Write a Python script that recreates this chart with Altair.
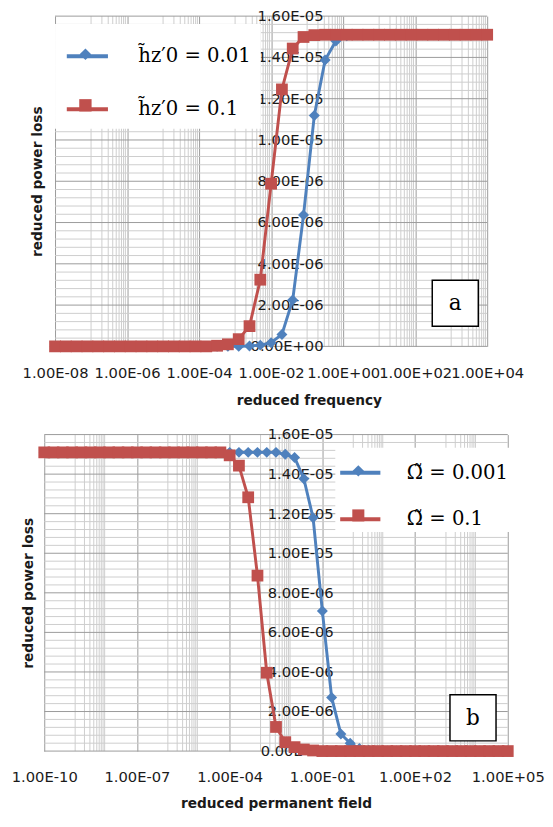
import altair as alt
import pandas as pd

# ---------------- data ----------------
# panel (a): reduced frequency (log10 of x) and reduced power loss (x 1e-6)
top_exp = [-8.0, -7.7, -7.4, -7.1, -6.8, -6.5, -6.2, -5.9, -5.6, -5.3, -5.0,
           -4.7, -4.4, -4.1, -3.8, -3.5, -3.2, -2.9, -2.6, -2.3, -2.0, -1.7,
           -1.4, -1.1, -0.8, -0.5, -0.2, 0.1, 0.4, 0.7, 1.0, 1.3, 1.6, 1.9,
           2.2, 2.5, 2.8, 3.1, 3.4, 3.7, 4.0]
top_blue = [0, 0, 0, 0, 0, 0, 0, 0, 0, 0, 0, 0, 0, 0, 0, 0, 0, 0,
            0.02, 0.06, 0.18, 0.58, 2.25, 6.36, 11.19, 13.88, 14.80, 15.05, 15.10,
            15.10, 15.10, 15.10, 15.10, 15.10, 15.10, 15.10, 15.10, 15.10, 15.10, 15.10, 15.10]
top_red = [0, 0, 0, 0, 0, 0, 0, 0, 0, 0, 0, 0, 0, 0, 0,
           0.03, 0.10, 0.35, 0.98, 3.23, 7.88, 12.45, 14.43, 14.99, 15.08,
           15.10, 15.10, 15.10, 15.10, 15.10, 15.10, 15.10, 15.10, 15.10, 15.10,
           15.10, 15.10, 15.10, 15.10, 15.10, 15.10]
top_names = ["h\u0303z\u20320 = 0.01", "h\u0303z\u20320 = 0.1"]
top_keys = ["0.01", "0.1"]

# panel (b): reduced permanent field
bot_exp = [-10.0, -9.7, -9.4, -9.1, -8.8, -8.5, -8.2, -7.9, -7.6, -7.3, -7.0,
           -6.7, -6.4, -6.1, -5.8, -5.5, -5.2, -4.9, -4.6, -4.3, -4.0, -3.7,
           -3.4, -3.1, -2.8, -2.5, -2.2, -1.9, -1.6, -1.3, -1.0, -0.7, -0.4,
           -0.1, 0.2, 0.5, 0.8, 1.1, 1.4, 1.7, 2.0, 2.3, 2.6, 2.9, 3.2, 3.5,
           3.8, 4.1, 4.4, 4.7, 5.0]
bot_blue = [15.10, 15.10, 15.10, 15.10, 15.10, 15.10, 15.10, 15.10, 15.10, 15.10,
            15.10, 15.10, 15.10, 15.10, 15.10, 15.10, 15.10, 15.10, 15.10, 15.10,
            15.10, 15.10, 15.10, 15.10, 15.10, 15.10,
            15.00, 14.84, 13.77, 11.79, 7.08, 2.71, 0.86, 0.40, 0.13, 0.04,
            0, 0, 0, 0, 0, 0, 0, 0, 0, 0, 0, 0, 0, 0, 0]
bot_red = [15.10, 15.10, 15.10, 15.10, 15.10, 15.10, 15.10, 15.10, 15.10, 15.10,
           15.10, 15.10, 15.10, 15.10, 15.10, 15.10, 15.10, 15.10, 15.10, 15.10,
           14.95, 14.43, 12.83, 8.87, 3.96, 1.22, 0.45, 0.20, 0.08, 0.03,
           0, 0, 0, 0, 0, 0, 0, 0, 0, 0, 0, 0, 0, 0, 0, 0, 0, 0, 0, 0, 0]
bot_names = ["\u03a9\u0303 = 0.001", "\u03a9\u0303 = 0.1"]
bot_keys = ["0.001", "0.1"]

y_ticks = [0, 2e-6, 4e-6, 6e-6, 8e-6, 1e-5, 1.2e-5, 1.4e-5, 1.6e-5]
y_minor = [k * 4e-7 for k in range(1, 40) if k % 5 != 0]
top_major = [1e-8, 1e-6, 1e-4, 1e-2, 1e0, 1e2, 1e4]
bot_major = [1e-10, 1e-7, 1e-4, 1e-1, 1e2, 1e5]
top_minor_decades = [-7, -5, -3, -1, 1, 3]
bot_minor_decades = [-9, -6, -3, 0, 3]

# ---------------- style ----------------
BLUE = "#4F81BD"
RED = "#C0504D"
MAJOR = "#9A9A9A"
MINOR = "#CDCDCD"
TXT = "#1a1a1a"
FONT = "DejaVu Sans"
LEGFONT = "DejaVu Serif"
# marker paths (the far move-to points give the legend symbol its footprint)
DIAMOND = "M-1.1,0M1.1,0M0,-0.476M0,0.476M0,-0.28L0.28,0L0,0.28L-0.28,0Z"
SQUARE = "M-1.1,0M1.1,0M0,-0.476M0,0.476M-0.3,-0.3L0.3,-0.3L0.3,0.3L-0.3,0.3Z"


def sci_expr(v):
    e = f"floor(log({v})/LN10 + 1e-9)"
    return (f"{v} == 0 ? '0.00E+00' : format({v}/pow(10,{e}),'.2f') + 'E' + "
            f"({e} < 0 ? '-' : '+') + (abs({e}) < 10 ? '0' : '') + abs({e})")


def panel(exps, blue, red, names, keys, major, minor_dec, xdom, width, height,
          xrange, xtitle, xtitle_x, ytitle_pad, xtitle_pad, leg, ann):
    sargs = dict(type="log", domain=xdom, nice=False)
    if xrange is not None:
        sargs["range"] = xrange
    xs = alt.Scale(**sargs)
    ys = alt.Scale(domain=[0, 1.6e-5], nice=False)

    n = len(exps)
    df = pd.DataFrame({
        "x": [10 ** e for e in exps] * 2,
        "y": [v * 1e-6 for v in blue] + [v * 1e-6 for v in red],
        "key": [keys[0]] * n + [keys[1]] * n,
        "label": [names[0]] * n + [names[1]] * n,
    })
    minor_x = [m * 10.0 ** d for d in minor_dec for m in range(1, 10)]

    axargs = dict(values=major, labelExpr=sci_expr("datum.value"), grid=True,
                  gridColor=MAJOR, gridWidth=1, ticks=False, domain=False,
                  labelFlush=False, labelOverlap=False, labelPadding=19.5,
                  labelFont=FONT, labelFontSize=15, labelColor=TXT,
                  title=xtitle, titleFont=FONT, titleFontSize=14,
                  titleFontWeight="bold", titleColor=TXT, titlePadding=xtitle_pad)
    if xtitle_x is not None:
        axargs["titleX"] = xtitle_x
    x_axis = alt.Axis(**axargs)
    y_axis = alt.Axis(title="reduced power loss", labels=False, ticks=False,
                      domain=False, grid=False, minExtent=0, titleFont=FONT,
                      titleFontSize=14, titleFontWeight="bold", titleColor=TXT,
                      titlePadding=ytitle_pad)

    def X(field):
        return alt.X(field, scale=xs, axis=x_axis, title=xtitle)

    def Y(field):
        return alt.Y(field, scale=ys, axis=y_axis, title="reduced power loss")

    vminor = alt.Chart(pd.DataFrame({"v": minor_x})).mark_rule(
        color=MINOR, strokeWidth=1).encode(x=X("v:Q"))

    hminor = alt.Chart(pd.DataFrame({"v": y_minor, "x0": [xdom[0]] * len(y_minor),
                                     "x1": [xdom[1]] * len(y_minor)})).mark_rule(
        color=MINOR, strokeWidth=1).encode(y=Y("v:Q"), x=X("x0:Q"), x2="x1:Q")

    hmajor = alt.Chart(pd.DataFrame({"v": y_ticks, "x0": [xdom[0]] * len(y_ticks),
                                     "x1": [xdom[1]] * len(y_ticks)})).mark_rule(
        color=MAJOR, strokeWidth=1).encode(y=Y("v:Q"), x=X("x0:Q"), x2="x1:Q")

    ylab = alt.Chart(pd.DataFrame({"v": y_ticks, "one": [1] * len(y_ticks)})).transform_calculate(
        lab=sci_expr("datum.v")).mark_text(
        align="right", baseline="middle", dx=-20, font=FONT, fontSize=15,
        color=TXT).encode(x=X("one:Q"), y=Y("v:Q"), text="lab:N")

    common = dict(orient="none", legendX=leg["x"], legendY=leg["y"], title=None,
                  direction="vertical", padding=leg["pad"], rowPadding=leg["row"],
                  symbolSize=leg["size"], labelFont=LEGFONT, labelFontSize=20,
                  labelColor="black", labelOffset=leg["loff"], labelLimit=300)

    lines = alt.Chart(df).mark_line().encode(
        x=X("x:Q"), y=Y("y:Q"),
        strokeWidth=alt.value(3),
        stroke=alt.Stroke("label:N", scale=alt.Scale(domain=names, range=[BLUE, RED]),
                          legend=alt.Legend(fillColor="white", symbolStrokeWidth=4,
                                            zindex=1, **common)))

    # marker overlay for the same legend entries (its labels are left empty)
    leg_m = alt.Legend(symbolStrokeWidth=0, labelExpr="''", zindex=2, **common)
    pts = alt.Chart(df).mark_point(filled=True, size=1600, opacity=1).encode(
        x=X("x:Q"), y=Y("y:Q"),
        color=alt.Color("key:N", scale=alt.Scale(domain=keys, range=[BLUE, RED]),
                        legend=leg_m),
        shape=alt.Shape("key:N", scale=alt.Scale(domain=keys, range=[DIAMOND, SQUARE]),
                        legend=leg_m))

    ann_df = pd.DataFrame({"x": [ann[1]], "y": [ann[2]], "t": [ann[0]]})
    box = alt.Chart(ann_df).mark_point(
        shape="square", size=2209, filled=True, fill="white", stroke="black",
        strokeWidth=1.5, opacity=1).encode(x=X("x:Q"), y=Y("y:Q"))
    txt = alt.Chart(ann_df).mark_text(
        font="DejaVu Serif", fontSize=22, color="black", baseline="middle",
        align="center").encode(x=X("x:Q"), y=Y("y:Q"), text="t:N")

    return alt.layer(vminor, hminor, hmajor, ylab, lines, pts, box, txt).properties(
        width=width, height=height)


top = panel(top_exp, top_blue, top_red, top_names, top_keys, top_major,
            top_minor_decades, [1e-8, 1e4], 452, 337, [11, 452],
            "reduced frequency", 270, 0, 14,
            dict(x=11, y=8, pad=10, row=21, size=1764, loff=29),
            ("a", 1300, 2.09e-6))
bottom = panel(bot_exp, bot_blue, bot_red, bot_names, bot_keys, bot_major,
               bot_minor_decades, [1e-10, 1e5], 473, 323, None,
               "reduced permanent field", None, 9, 12,
               dict(x=297, y=13.5, pad=3, row=14.5, size=1681, loff=25),
               ("b", 7500, 1.68e-6))

chart = alt.vconcat(top, bottom, spacing=20).resolve_scale(
    color="independent", shape="independent", stroke="independent"
).properties(
    padding={"left": 3, "top": -7, "right": 0, "bottom": 0},
    background="white",
).configure_view(stroke=None)

chart.save("out.html", embed_options={"renderer": "svg", "actions": False})
